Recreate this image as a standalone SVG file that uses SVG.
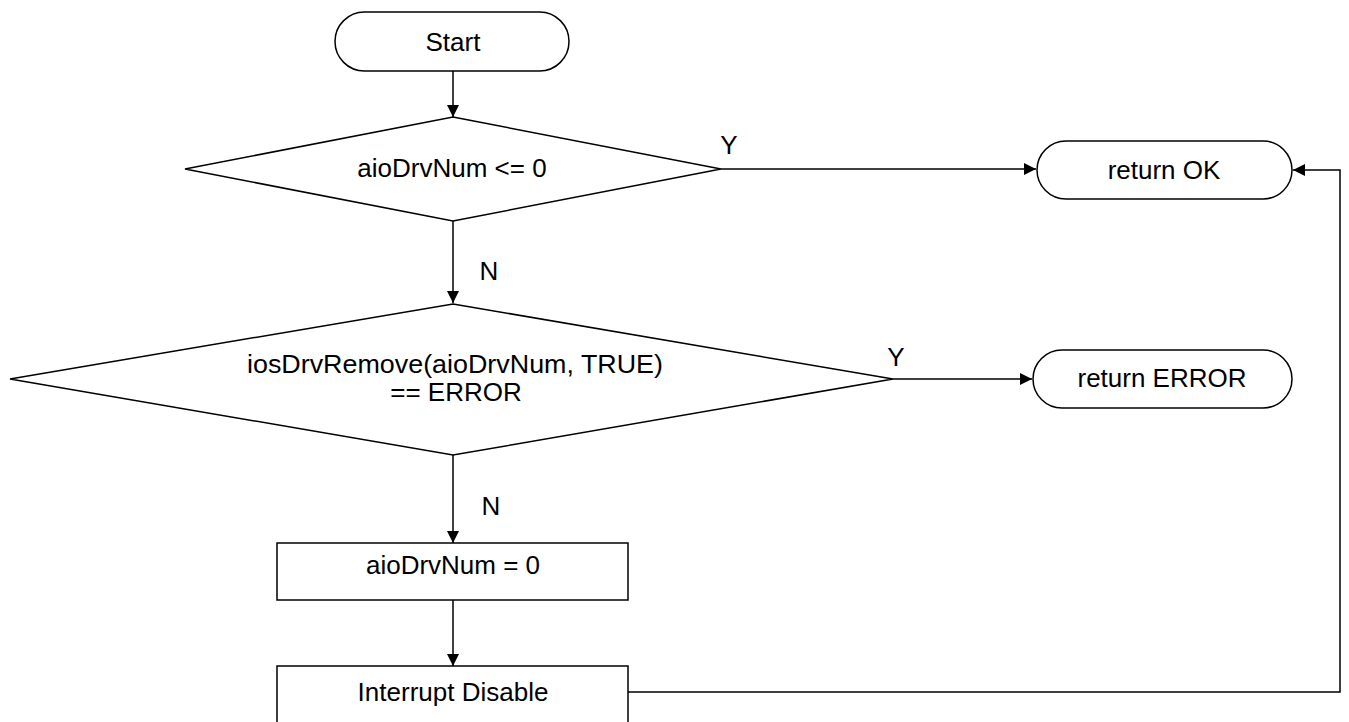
<svg xmlns="http://www.w3.org/2000/svg" width="1349" height="722" viewBox="0 0 1349 722">
  <defs>
    <marker id="arrow" markerWidth="12" markerHeight="12" refX="12" refY="6" orient="auto" markerUnits="userSpaceOnUse">
      <path d="M0,0 L12,6 L0,12 Z" fill="#000"/>
    </marker>
    <style>
      .shape { fill: #fff; stroke: #000; stroke-width: 1.5; }
      .edge { fill: none; stroke: #000; stroke-width: 1.5; marker-end: url(#arrow); }
      .label { font-family: "Liberation Sans", Arial, sans-serif; font-size: 26px; fill: #000; text-anchor: middle; dominant-baseline: central; }
    </style>
  </defs>
  <rect width="1349" height="722" fill="#fff"/>

  <g id="connectors">
    <line class="edge" x1="453" y1="71" x2="453" y2="117"/>
    <line class="edge" x1="721" y1="169" x2="1036" y2="169"/>
    <line class="edge" x1="453" y1="221" x2="453" y2="303"/>
    <line class="edge" x1="893" y1="379" x2="1032" y2="379"/>
    <line class="edge" x1="453" y1="455" x2="453" y2="543"/>
    <line class="edge" x1="453" y1="600" x2="453" y2="666"/>
    <polyline class="edge" points="628,692 1340,692 1340,170 1293,170"/>
    <text class="label" x="729" y="145">Y</text>
    <text class="label" x="896" y="357">Y</text>
    <text class="label" x="489" y="271">N</text>
    <text class="label" x="491" y="506">N</text>
  </g>

  <g id="start">
    <rect class="shape" x="335" y="12" width="234" height="59" rx="29.5" ry="29.5"/>
    <text class="label" x="453" y="42">Start</text>
  </g>

  <g id="check-num">
    <polygon class="shape" points="453,117 721,169 453,221 185,169"/>
    <text class="label" x="452" y="168">aioDrvNum &lt;= 0</text>
  </g>

  <g id="return-ok">
    <rect class="shape" x="1037" y="141" width="255" height="58" rx="29" ry="29"/>
    <text class="label" x="1164" y="170">return OK</text>
  </g>

  <g id="check-remove">
    <polygon class="shape" points="453,304 893,379 453,455 10,379"/>
    <text class="label" x="455" y="364" textLength="416" lengthAdjust="spacingAndGlyphs">iosDrvRemove(aioDrvNum, TRUE)</text>
    <text class="label" x="456" y="392">== ERROR</text>
  </g>

  <g id="return-error">
    <rect class="shape" x="1033" y="350" width="259" height="58" rx="29" ry="29"/>
    <text class="label" x="1162" y="378">return ERROR</text>
  </g>

  <g id="reset-num">
    <rect class="shape" x="277" y="543" width="351" height="57"/>
    <text class="label" x="453" y="565">aioDrvNum = 0</text>
  </g>

  <g id="int-disable">
    <rect class="shape" x="277" y="666" width="351" height="60"/>
    <text class="label" x="453" y="692">Interrupt Disable</text>
  </g>
</svg>
